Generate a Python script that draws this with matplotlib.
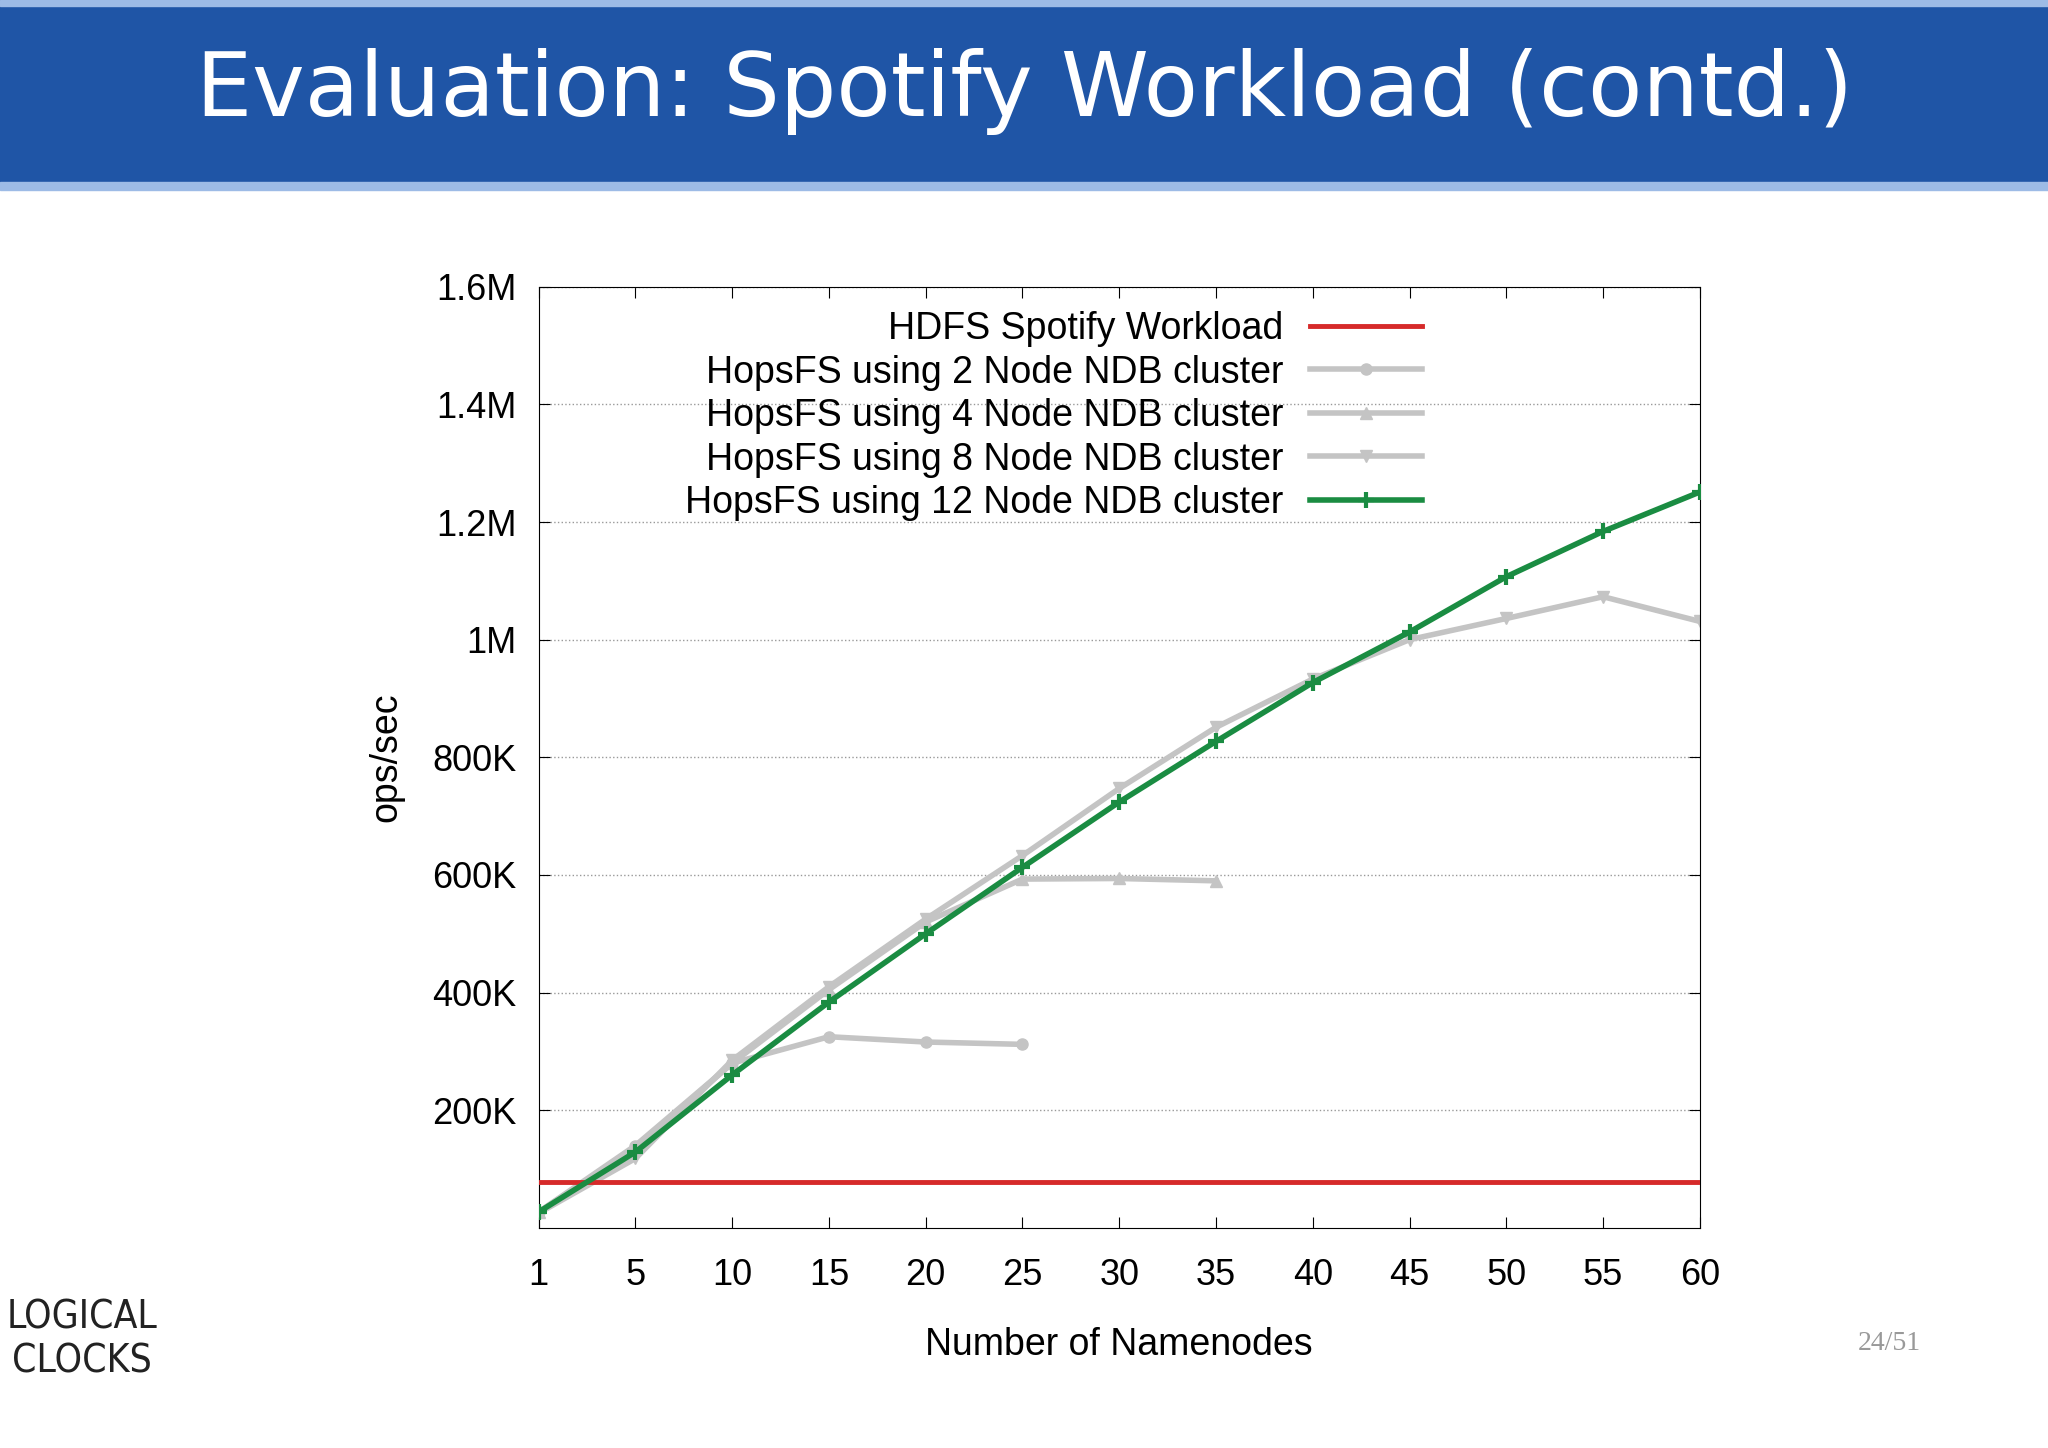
import numpy as np
import matplotlib
matplotlib.use("Agg")
import matplotlib.pyplot as plt

x_labels = [1, 5, 10, 15, 20, 25, 30, 35, 40, 45, 50, 55, 60]
hdfs = 78e3
nn12 = [27, 129, 260, 384, 500, 613, 724, 827, 927, 1013, 1107, 1184, 1251]
nn2 = [27, 140, 280, 325, 316, 312]
nn4 = [27, 135, 280, 405, 520, 593, 594, 590]
nn8 = [25, 118, 285, 410, 525, 633, 747, 851, 933, 1000, 1036, 1073, 1031]

plt.rcParams['font.family'] = ['Liberation Sans', 'DejaVu Sans']
fig = plt.figure(figsize=(20.48, 14.48), dpi=100)

# title band
fig.patches.append(plt.Rectangle((0, 0.874), 1, 0.126, transform=fig.transFigure,
                                 color='#1f55a6', zorder=0))
fig.patches.append(plt.Rectangle((0, 0.869), 1, 0.005, transform=fig.transFigure,
                                 color='#9dbbe6', zorder=0))
fig.patches.append(plt.Rectangle((0, 0.996), 1, 0.004, transform=fig.transFigure,
                                 color='#9dbbe6', zorder=0))
fig.text(0.5, 0.937, 'Evaluation: Spotify Workload (contd.)', color='white',
         fontsize=64, ha='center', va='center', family=['DejaVu Sans'])

ax = fig.add_axes([0.263, 0.152, 0.567, 0.650])
gray = '#c4c4c4'
idx = np.arange(len(x_labels))
k = 1e3
ax.axhline(hdfs, color='#d62a2a', lw=3.5, label='HDFS Spotify Workload', zorder=3)
ax.plot(idx[:len(nn2)], np.array(nn2) * k, color=gray, lw=4, marker='o', ms=8,
        label='HopsFS using 2 Node NDB cluster', zorder=2)
ax.plot(idx[:len(nn4)], np.array(nn4) * k, color=gray, lw=4, marker='^', ms=9,
        label='HopsFS using 4 Node NDB cluster', zorder=2)
ax.plot(idx, np.array(nn8) * k, color=gray, lw=4, marker='v', ms=9,
        label='HopsFS using 8 Node NDB cluster', zorder=2)
ax.plot(idx, np.array(nn12) * k, color='#1a8c42', lw=4, marker='+', ms=12, mew=3,
        label='HopsFS using 12 Node NDB cluster', zorder=4)

ax.set_xlim(0, len(x_labels) - 1)
ax.set_ylim(0, 1.6e6)
ax.set_xticks(idx)
ax.set_xticklabels([str(v) for v in x_labels])
yt = np.arange(0, 1.7e6, 2e5)
ax.set_yticks(yt[1:])
ax.set_yticklabels(['200K', '400K', '600K', '800K', '1M', '1.2M', '1.4M', '1.6M'])
ax.tick_params(direction='in', top=True, right=True, length=8, labelsize=26)
ax.tick_params(axis='x', pad=22)
ax.tick_params(axis='y', pad=16)
ax.grid(axis='y', linestyle=':', color='#999999', lw=1)
ax.set_xlabel('Number of Namenodes', fontsize=27, labelpad=24)
ax.set_ylabel('ops/sec', fontsize=27, labelpad=20)
leg = ax.legend(loc='upper right', bbox_to_anchor=(0.79, 1.01), frameon=False,
                markerfirst=False, fontsize=27, handlelength=3.0, labelspacing=0.2,
                handletextpad=0.7)

fig.text(0.938, 0.072, '24/51', fontsize=20, color='#999999', ha='right',
         va='center', family=['Liberation Serif'])
fig.text(0.040, 0.075, 'LOGICAL\nCLOCKS', fontsize=28, color='#222222', ha='center',
         va='center', family=['DejaVu Sans'], fontstretch='condensed', linespacing=1.2)

fig.savefig('out.png', dpi=100)
